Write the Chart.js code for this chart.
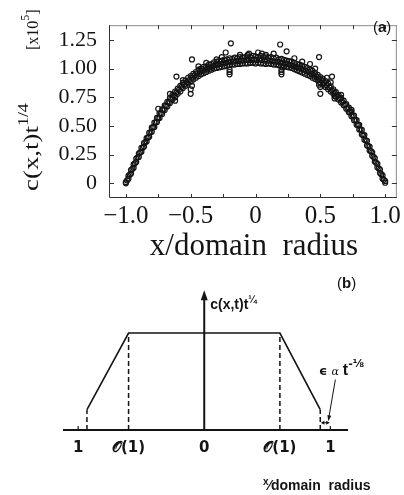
<!DOCTYPE html>
<html>
<head>
<meta charset="utf-8">
<script src="https://cdn.jsdelivr.net/npm/chart.js@4"></script>
<style>
  body { margin: 0; background: #fff; }
  #wrap { position: relative; width: 404px; height: 495px; overflow: hidden; }
  canvas { position: absolute; left: 0; }
  #chartA { top: 0; }
  #chartB { top: 250px; }
</style>
</head>
<body>
<div id="wrap">
  <canvas id="chartA" width="404" height="270"></canvas>
  <canvas id="chartB" width="404" height="245"></canvas>
</div>
<script>
// ---- panel (a) data: scaled concentration vs x/domain radius ----
const xsMain = [-1.00,-0.98,-0.96,-0.94,-0.92,-0.90,-0.88,-0.86,-0.84,-0.82,-0.80,-0.78,-0.76,-0.74,-0.72,-0.70,-0.68,-0.66,-0.64,-0.62,-0.60,-0.58,-0.56,-0.54,-0.52,-0.50,-0.48,-0.46,-0.44,-0.42,-0.40,-0.38,-0.36,-0.34,-0.32,-0.30,-0.28,-0.26,-0.24,-0.22,-0.20,-0.18,-0.16,-0.14,-0.12,-0.10,-0.08,-0.06,-0.04,-0.02,0.00,0.02,0.04,0.06,0.08,0.10,0.12,0.14,0.16,0.18,0.20,0.22,0.24,0.26,0.28,0.30,0.32,0.34,0.36,0.38,0.40,0.42,0.44,0.46,0.48,0.50,0.52,0.54,0.56,0.58,0.60,0.62,0.64,0.66,0.68,0.70,0.72,0.74,0.76,0.78,0.80,0.82,0.84,0.86,0.88,0.90,0.92,0.94,0.96,0.98,1.00];
const upperBand = [0.01,0.065,0.115,0.165,0.215,0.26,0.31,0.35,0.395,0.44,0.485,0.53,0.57,0.61,0.645,0.68,0.71,0.745,0.77,0.80,0.825,0.85,0.875,0.895,0.92,0.935,0.955,0.97,0.99,1.00,1.015,1.02,1.035,1.04,1.055,1.06,1.065,1.07,1.075,1.08,1.09,1.085,1.095,1.09,1.10,1.095,1.10,1.105,1.10,1.11,1.105,1.10,1.11,1.10,1.105,1.095,1.10,1.09,1.095,1.08,1.085,1.075,1.07,1.065,1.06,1.05,1.04,1.035,1.025,1.015,1.005,0.99,0.98,0.96,0.945,0.925,0.91,0.89,0.87,0.845,0.82,0.795,0.77,0.745,0.72,0.69,0.66,0.625,0.59,0.55,0.51,0.465,0.42,0.37,0.32,0.27,0.22,0.17,0.12,0.07,0.02];
const lowerBand = [0.00,0.04,0.085,0.135,0.185,0.23,0.275,0.32,0.365,0.405,0.45,0.49,0.535,0.57,0.605,0.64,0.67,0.70,0.73,0.755,0.78,0.80,0.83,0.85,0.87,0.885,0.905,0.92,0.935,0.95,0.96,0.97,0.98,0.99,1.00,1.005,1.01,1.015,1.02,1.025,1.03,1.035,1.035,1.04,1.04,1.045,1.045,1.045,1.05,1.05,1.045,1.05,1.045,1.045,1.04,1.045,1.04,1.035,1.035,1.03,1.025,1.02,1.015,1.01,1.005,0.995,0.985,0.975,0.965,0.955,0.945,0.935,0.92,0.91,0.895,0.875,0.86,0.84,0.82,0.80,0.78,0.755,0.73,0.705,0.68,0.65,0.62,0.585,0.55,0.51,0.47,0.425,0.38,0.33,0.285,0.24,0.19,0.14,0.09,0.04,0.005];
const xsMid = [-0.99,-0.97,-0.95,-0.93,-0.91,-0.89,-0.87,-0.85,-0.83,-0.81,-0.79,-0.77,-0.75,-0.73,-0.71,-0.69,-0.67,-0.65,-0.63,-0.61,-0.59,-0.57,-0.55,-0.53,-0.51,-0.49,-0.47,-0.45,-0.43,-0.41,-0.39,-0.37,-0.35,-0.33,-0.31,-0.29,-0.27,-0.25,-0.23,-0.21,-0.19,-0.17,-0.15,-0.13,-0.11,-0.09,-0.07,-0.05,-0.03,-0.01,0.01,0.03,0.05,0.07,0.09,0.11,0.13,0.15,0.17,0.19,0.21,0.23,0.25,0.27,0.29,0.31,0.33,0.35,0.37,0.39,0.41,0.43,0.45,0.47,0.49,0.51,0.53,0.55,0.57,0.59,0.61,0.63,0.65,0.67,0.69,0.71,0.73,0.75,0.77,0.79,0.81,0.83,0.85,0.87,0.89,0.91,0.93,0.95,0.97,0.99];
const midBand = [0.025,0.075,0.125,0.175,0.225,0.27,0.31,0.36,0.40,0.445,0.49,0.53,0.57,0.61,0.645,0.675,0.705,0.735,0.765,0.79,0.815,0.84,0.86,0.88,0.90,0.92,0.94,0.955,0.97,0.98,0.99,1.00,1.01,1.02,1.03,1.035,1.04,1.045,1.05,1.055,1.06,1.06,1.065,1.065,1.07,1.07,1.075,1.075,1.075,1.08,1.075,1.08,1.075,1.07,1.07,1.07,1.065,1.06,1.06,1.055,1.05,1.045,1.04,1.03,1.025,1.015,1.01,1.0,0.99,0.98,0.97,0.955,0.94,0.93,0.91,0.895,0.875,0.855,0.835,0.81,0.79,0.76,0.74,0.71,0.685,0.655,0.62,0.59,0.55,0.51,0.47,0.42,0.375,0.325,0.28,0.23,0.18,0.13,0.08,0.03];
const outlierX = [-0.19,0.19,-0.49,0.49,-0.23,0.24,-0.61,0.59,-0.50,-0.50,-0.49,0.50,0.50,0.49,-0.20,-0.20,-0.20,0.20,0.20,0.20,0.21,-0.62,-0.62,0.61,0.61,-0.44,-0.38,-0.30,-0.26,-0.12,-0.05,0.02,0.08,0.14,0.30,0.36,0.42,0.46,0.55,0.58,-0.56,-0.66,0.66,-0.75,0.74,-0.06,0.05];
const outlierY = [1.22,1.21,1.08,1.10,1.14,1.15,0.93,0.93,0.82,0.78,0.85,0.84,0.78,0.86,0.95,0.97,0.99,0.95,0.97,0.99,1.01,0.72,0.75,0.74,0.76,1.02,1.05,1.08,1.10,1.12,1.13,1.14,1.12,1.13,1.09,1.06,1.04,1.00,0.92,0.88,0.90,0.78,0.77,0.65,0.64,1.12,1.13];

const xTickValues = [-1, -0.75, -0.5, -0.25, 0, 0.25, 0.5, 0.75, 1];
const xLabelValues = [-1, -0.5, 0, 0.5, 1];
const xTickLabels = ['\u22121.0', '\u22120.5', '0', '0.5', '1.0'];
const yTickValues = [0, 0.25, 0.5, 0.75, 1, 1.25];
const yTickLabels = ['0', '0.25', '0.50', '0.75', '1.00', '1.25'];

// ---- panel (b) data: schematic profile ----
const schemX = [-0.93, -0.60, 0.60, 0.92];
const schemY = [0.21, 1, 1, 0.21];
const schemLabelX = [-1, -0.6, 0, 0.6, 1];
const schemLabels = ['1', '\u{1D4AA}(1)', '0', '\u{1D4AA}(1)', '1'];

const INK = '#141414';

function pts(xs, ys) {
  return xs.map((x, i) => ({ x: x, y: ys[i] }));
}

// draw a run of text pieces (for superscripts)
function drawRich(ctx, x, y, parts, align) {
  let total = 0;
  parts.forEach(p => { ctx.font = p.f; total += ctx.measureText(p.t).width + (p.gap || 0); });
  let cx = align === 'center' ? x - total / 2 : (align === 'right' ? x - total : x);
  parts.forEach(p => {
    ctx.font = p.f;
    ctx.fillText(p.t, cx, y + (p.dy || 0));
    cx += ctx.measureText(p.t).width + (p.gap || 0);
  });
}

function arrowHead(ctx, x1, y1, x2, y2, len, wid) {
  const ang = Math.atan2(y2 - y1, x2 - x1);
  ctx.beginPath();
  ctx.moveTo(x2, y2);
  ctx.lineTo(x2 - len * Math.cos(ang) + wid * Math.sin(ang), y2 - len * Math.sin(ang) - wid * Math.cos(ang));
  ctx.lineTo(x2 - len * Math.cos(ang) - wid * Math.sin(ang), y2 - len * Math.sin(ang) + wid * Math.cos(ang));
  ctx.closePath();
  ctx.fill();
}

const pointStyle = {
  showLine: false,
  pointRadius: 2.5,
  pointBorderWidth: 1.2,
  pointBorderColor: INK,
  pointBackgroundColor: 'rgba(0,0,0,0)'
};

const panelAOverlay = {
  id: 'panelAOverlay',
  afterDraw(chart) {
    const { ctx, chartArea: a, scales: { x, y } } = chart;
    ctx.save();
    // frame
    ctx.lineWidth = 1;
    ctx.strokeStyle = '#8a8a8a';
    ctx.beginPath();
    ctx.moveTo(a.left, a.top + 0.5); ctx.lineTo(a.right, a.top + 0.5);
    ctx.moveTo(a.right - 0.5, a.top); ctx.lineTo(a.right - 0.5, a.bottom);
    ctx.stroke();
    ctx.strokeStyle = '#333';
    ctx.beginPath();
    ctx.moveTo(a.left + 0.5, a.top); ctx.lineTo(a.left + 0.5, a.bottom - 0.5); ctx.lineTo(a.right, a.bottom - 0.5);
    ctx.stroke();
    // inward ticks
    ctx.strokeStyle = '#333';
    ctx.beginPath();
    xTickValues.forEach(v => {
      const px = Math.round(x.getPixelForValue(v)) + 0.5;
      ctx.moveTo(px, a.bottom); ctx.lineTo(px, a.bottom - 4);
      ctx.moveTo(px, a.top); ctx.lineTo(px, a.top + 4);
    });
    yTickValues.forEach(v => {
      const py = Math.round(y.getPixelForValue(v)) + 0.5;
      ctx.moveTo(a.left, py); ctx.lineTo(a.left + 5, py);
      ctx.moveTo(a.right, py); ctx.lineTo(a.right - 5, py);
    });
    ctx.stroke();
    ctx.fillStyle = INK;
    ctx.textBaseline = 'alphabetic';
    // x title
    drawRich(ctx, 254, 255, [{ t: 'x/domain  radius', f: '31px "Liberation Serif"' }], 'center');
    // y title (rotated, slightly stretched along its length like the original)
    ctx.save();
    ctx.translate(38, 191);
    ctx.rotate(-Math.PI / 2);
    ctx.save();
    ctx.scale(1.28, 1);
    drawRich(ctx, 0, 0, [
      { t: 'c(x,t)t', f: '21px "Liberation Serif"' },
      { t: '1/4', f: '14px "Liberation Serif"', dy: -10 }
    ], 'left');
    ctx.restore();
    drawRich(ctx, 141, 0, [
      { t: '[x10', f: '16px "Liberation Serif"' },
      { t: '5', f: '12px "Liberation Serif"', dy: -9 },
      { t: ']', f: '16px "Liberation Serif"' }
    ], 'left');
    ctx.restore();
    // panel tag
    drawRich(ctx, 373, 32, [
      { t: '(', f: '15px "Liberation Sans"' },
      { t: 'a', f: 'bold 15px "Liberation Sans"' },
      { t: ')', f: '15px "Liberation Sans"' }
    ], 'left');
    ctx.restore();
  }
};

const panelBOverlay = {
  id: 'panelBOverlay',
  afterDraw(chart) {
    const { ctx, chartArea: a, scales: { x, y } } = chart;
    const X = v => x.getPixelForValue(v);
    const Y = v => y.getPixelForValue(v);
    ctx.save();
    ctx.strokeStyle = INK;
    ctx.fillStyle = INK;
    // baseline
    ctx.lineWidth = 2;
    ctx.beginPath();
    ctx.moveTo(a.left, Y(0)); ctx.lineTo(a.right, Y(0));
    ctx.stroke();
    // vertical arrow
    ctx.beginPath();
    ctx.moveTo(X(0), Y(0)); ctx.lineTo(X(0), Y(1.36));
    ctx.stroke();
    arrowHead(ctx, X(0), Y(0), X(0), Y(1.44), 10, 3.5);
    // small ticks at +-1
    ctx.lineWidth = 1.2;
    ctx.beginPath();
    [-1, 1].forEach(v => { ctx.moveTo(X(v), Y(0)); ctx.lineTo(X(v), Y(0) - 4); });
    ctx.stroke();
    // epsilon width marker
    ctx.lineWidth = 1;
    const yy = Y(0.075);
    ctx.beginPath();
    ctx.moveTo(X(0.935), yy); ctx.lineTo(X(0.985), yy);
    ctx.stroke();
    arrowHead(ctx, X(0.985), yy, X(0.925), yy, 3.5, 2);
    arrowHead(ctx, X(0.925), yy, X(0.995), yy, 3.5, 2);
    // pointer from label
    ctx.beginPath();
    ctx.moveTo(X(1.04), Y(0.52)); ctx.lineTo(X(0.988), Y(0.13));
    ctx.stroke();
    arrowHead(ctx, X(1.04), Y(0.52), X(0.984), Y(0.09), 6, 2);
    // tick labels
    ctx.textBaseline = 'alphabetic';
    schemLabelX.forEach((v, i) => {
      drawRich(ctx, X(v), 202, [{ t: schemLabels[i], f: 'bold 15px "DejaVu Sans"' }], 'center');
    });
    // axis name
    drawRich(ctx, X(0) + 6, 59, [
      { t: 'c(x,t)t', f: 'bold 14px "Liberation Sans"' },
      { t: '\u00BC', f: 'bold 10px "Liberation Sans"', dy: -6 }
    ], 'left');
    // epsilon label
    drawRich(ctx, 319, 125, [
      { t: '\u03F5', f: 'bold 13px "DejaVu Sans"', gap: 4 },
      { t: '\u03B1', f: 'italic 11px "DejaVu Serif"', gap: 4 },
      { t: 't', f: 'bold 16px "Liberation Sans"' },
      { t: '-\u215B', f: 'bold 11px "DejaVu Sans"', dy: -8 }
    ], 'left');
    // panel tag
    drawRich(ctx, 337, 38, [
      { t: '(', f: '15px "Liberation Sans"' },
      { t: 'b', f: 'bold 15px "Liberation Sans"' },
      { t: ')', f: '15px "Liberation Sans"' }
    ], 'left');
    // x name
    drawRich(ctx, 263, 240, [
      { t: 'x', f: 'bold 10px "Liberation Sans"', dy: -5 },
      { t: '\u2044', f: 'bold 14px "Liberation Sans"' },
      { t: 'domain  radius', f: 'bold 14px "Liberation Sans"' }
    ], 'left');
    ctx.restore();
  }
};

new Chart(document.getElementById('chartA'), {
  type: 'scatter',
  data: {
    datasets: [
      Object.assign({ data: pts(xsMain, upperBand) }, pointStyle),
      Object.assign({ data: pts(xsMain, lowerBand) }, pointStyle),
      Object.assign({ data: pts(xsMid, midBand) }, pointStyle),
      Object.assign({ data: pts(outlierX, outlierY) }, pointStyle)
    ]
  },
  options: {
    responsive: false,
    animation: false,
    layout: { padding: { left: 0, top: 10, right: 2, bottom: 0 } },
    plugins: { legend: { display: false }, tooltip: { enabled: false } },
    scales: {
      x: {
        type: 'linear', min: -1.13, max: 1.09,
        grid: { display: false, drawTicks: false },
        border: { display: false },
        afterBuildTicks: s => { s.ticks = xLabelValues.map(v => ({ value: v })); },
        afterFit: s => { s.height = 72; },
        ticks: {
          autoSkip: false, maxRotation: 0, padding: 3, color: INK,
          font: { family: 'Liberation Serif', size: 25 },
          callback: v => xTickLabels[xLabelValues.indexOf(v)]
        }
      },
      y: {
        type: 'linear', min: -0.128, max: 1.378,
        grid: { display: false, drawTicks: false },
        border: { display: false },
        afterBuildTicks: s => { s.ticks = yTickValues.map(v => ({ value: v })); },
        afterFit: s => { s.width = 109; },
        ticks: {
          autoSkip: false, padding: 12, color: INK,
          font: { family: 'Liberation Serif', size: 22 },
          callback: v => yTickLabels[yTickValues.indexOf(v)]
        }
      }
    }
  },
  plugins: [panelAOverlay]
});

const dashedSets = schemX.map((sx, i) => ({
  data: [{ x: sx, y: 0 }, { x: sx, y: schemY[i] }],
  showLine: true, pointRadius: 0, borderColor: INK, borderWidth: 1.5, borderDash: [5, 3]
}));

new Chart(document.getElementById('chartB'), {
  type: 'scatter',
  data: {
    datasets: [
      { data: pts(schemX, schemY), showLine: true, pointRadius: 0, borderColor: INK, borderWidth: 1.6 }
    ].concat(dashedSets)
  },
  options: {
    responsive: false,
    animation: false,
    layout: { padding: { left: 63, top: 20, right: 56, bottom: 65 } },
    plugins: { legend: { display: false }, tooltip: { enabled: false } },
    scales: {
      x: { type: 'linear', min: -1.12, max: 1.14, display: false },
      y: { type: 'linear', min: 0, max: 1.65, display: false }
    }
  },
  plugins: [panelBOverlay]
});
</script>
</body>
</html>
